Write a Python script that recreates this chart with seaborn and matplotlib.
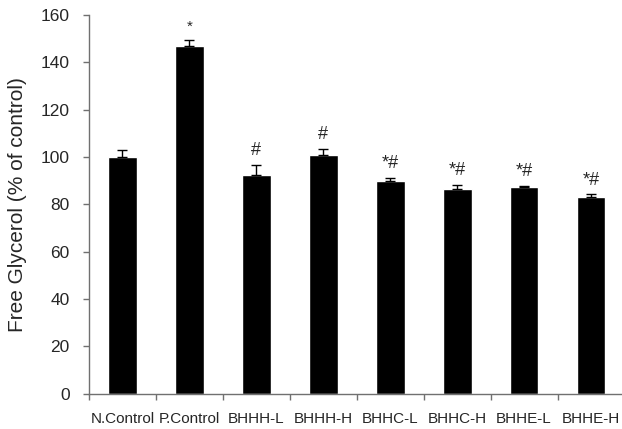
import numpy as np
import pandas as pd
import seaborn as sns
import matplotlib.pyplot as plt

# data
groups = ['N.Control', 'P.Control', 'BHHH-L', 'BHHH-H', 'BHHC-L', 'BHHC-H', 'BHHE-L', 'BHHE-H']
glycerol = [100.0, 147.0, 92.5, 101.0, 89.8, 86.5, 87.2, 83.2]
sem = [3.0, 2.5, 4.0, 2.5, 1.3, 1.6, 0.6, 1.0]
marks = ['', '*', '#', '#', '*#', '*#', '*#', '*#']

df = pd.DataFrame({'group': groups, 'glycerol': glycerol})

sns.set_style('white')
plt.rcParams['font.family'] = ['Liberation Sans', 'DejaVu Sans']

fig = plt.figure(figsize=(6.22, 4.29), dpi=100)
# the plot area runs slightly past the right edge, as in the original
ax = fig.add_axes([0.143, 0.082, 0.861, 0.883])

sns.barplot(data=df, x='group', y='glycerol', color='black', width=0.43,
            saturation=1, errorbar=None, ax=ax)
ax.errorbar(np.arange(len(groups)), glycerol, yerr=[np.zeros(len(sem)), sem],
            fmt='none', ecolor='black', elinewidth=1, capsize=3.5, capthick=1)

# significance marks above error bars
for i, (v, e, m) in enumerate(zip(glycerol, sem, marks)):
    if m:
        fs = 11 if m == '*' else 13
        ax.text(i, v + e + 2.5, m, ha='center', va='bottom', fontsize=fs)

ax.set_ylim(0, 160)
ax.set_xlim(-0.5, len(groups) - 0.5)
ax.set_yticks(range(0, 161, 20))
ax.set_xlabel('')
ax.set_ylabel('Free Glycerol (% of control)', fontsize=15, labelpad=10)

# excel-style ticks between categories
ax.set_xticks(np.arange(-0.5, len(groups)), minor=True)
ax.tick_params(axis='x', which='major', length=0, labelsize=11, pad=13)
ax.tick_params(axis='x', which='minor', length=4, width=1, color='#707070', direction='out', bottom=True)
ax.tick_params(axis='y', length=4, width=1, color='#707070', direction='out', left=True, labelsize=12.5, pad=10)

for side in ['top', 'right']:
    ax.spines[side].set_visible(False)
for side in ['left', 'bottom']:
    ax.spines[side].set_color('#707070')
    ax.spines[side].set_linewidth(1)

plt.savefig('out.png', dpi=100)
